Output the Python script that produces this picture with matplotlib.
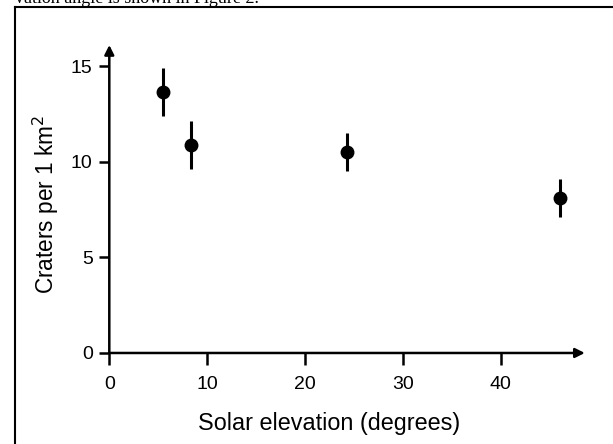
import matplotlib.pyplot as plt
from matplotlib.lines import Line2D

# values
elevation = [5.5, 8.3, 24.3, 46.1]
craters = [13.66, 10.87, 10.52, 8.12]
err = [1.25, 1.25, 1.0, 1.0]
xticks = [0, 10, 20, 30, 40]
yticks = [0, 5, 10, 15]

plt.rcParams['font.family'] = ['Liberation Sans', 'DejaVu Sans']

fig = plt.figure(figsize=(6.13, 4.44), dpi=100)
ax = fig.add_axes([0.1783, 0.205, 0.954 - 0.1783, 0.8986 - 0.205])

ax.errorbar(elevation, craters, yerr=err, fmt='o', color='black',
            ms=9, elinewidth=2.2, capsize=0, clip_on=False)

ax.set_xlim(0, 48.6)
ax.set_ylim(0, 16.1)
ax.set_xticks(xticks)
ax.set_yticks(yticks)
ax.tick_params(direction='out', width=1.8, labelsize=14)
ax.tick_params(axis='x', length=8.5, pad=8)
ax.tick_params(axis='y', length=7, pad=5)

for s in ax.spines.values():
    s.set_visible(False)

# axes with arrow heads
arrow = dict(arrowstyle='-|>', color='black', lw=1.8, mutation_scale=14,
             shrinkA=0, shrinkB=0)
ax.annotate('', xy=(1, 0), xytext=(0, 0), xycoords='axes fraction', arrowprops=arrow)
ax.annotate('', xy=(0, 1), xytext=(0, 0), xycoords='axes fraction', arrowprops=arrow)

ax.set_xlabel('Solar elevation (degrees)', fontsize=16.8)
ax.set_ylabel('Craters per 1 km$^2$', fontsize=16.3)
ax.xaxis.set_label_coords((329 - 109.3) / 475.7, -(412 - 353) / 308)
ax.yaxis.set_label_coords((61 - 109.3) / 475.7, (353 - 204) / 308)

# page border and clipped caption text above the figure
fig.add_artist(Line2D([15 / 613, 15 / 613], [0, 1 - 7 / 444], color='black', lw=1.5,
                      transform=fig.transFigure))
fig.add_artist(Line2D([15 / 613, 1], [1 - 7 / 444, 1 - 7 / 444], color='black', lw=1.5,
                      transform=fig.transFigure))
fig.text(15 / 613, 1 - 3 / 444, 'vation angle is shown in Figure 2.',
         family='Liberation Serif', fontsize=13, va='baseline', ha='left')

fig.savefig('out.png', dpi=100)
